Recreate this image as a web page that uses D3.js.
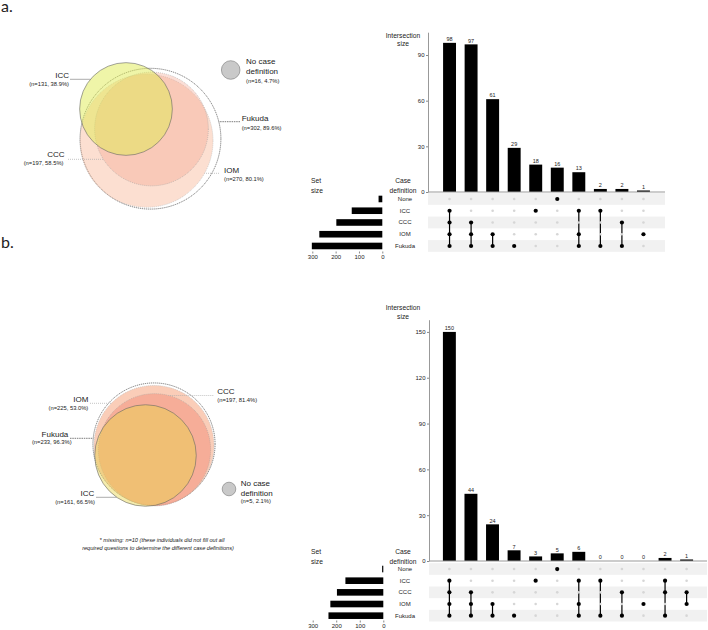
<!DOCTYPE html>
<html>
<head>
<meta charset="utf-8">
<script src="https://cdn.jsdelivr.net/npm/d3@7"></script>
<style>
  body { margin: 0; background: #fff; }
  text { font-family: "Liberation Sans", Arial, sans-serif; fill: #222; }
</style>
</head>
<body>
<script>
// matrix rows, top to bottom
var sets = ["None", "ICC", "CCC", "IOM", "Fukuda"];

// ---- panel a ----
var setSizeA = [16, 131, 197, 270, 302];
var interSizeA = [98, 97, 61, 29, 18, 16, 13, 2, 2, 1];
var interSetsA = [
  ["ICC", "CCC", "IOM", "Fukuda"], ["CCC", "IOM", "Fukuda"], ["IOM", "Fukuda"], ["Fukuda"],
  ["ICC"], ["None"], ["ICC", "IOM", "Fukuda"], ["ICC", "Fukuda"], ["CCC", "Fukuda"], ["IOM"]
];
var vennNamesA = ["Fukuda", "IOM", "CCC", "ICC"];
var vennNA = [302, 270, 197, 131];
var vennPctA = ["89.6%", "80.1%", "58.5%", "38.9%"];
var noneA = { n: 16, pct: "4.7%" };

// ---- panel b ----
var setSizeB = [5, 161, 197, 225, 233];
var interSizeB = [150, 44, 24, 7, 3, 5, 6, 0, 0, 0, 2, 1];
var interSetsB = [
  ["ICC", "CCC", "IOM", "Fukuda"], ["CCC", "IOM", "Fukuda"], ["IOM", "Fukuda"], ["Fukuda"],
  ["ICC"], ["None"], ["ICC", "IOM", "Fukuda"], ["ICC", "Fukuda"], ["CCC", "Fukuda"], ["IOM"],
  ["ICC", "CCC", "Fukuda"], ["CCC", "IOM"]
];
var vennNamesB = ["Fukuda", "IOM", "CCC", "ICC"];
var vennNB = [233, 225, 197, 161];
var vennPctB = ["96.3%", "53.0%", "81.4%", "66.5%"];
var noneB = { n: 5, pct: "2.1%" };

var setTicks = [0, 100, 200, 300];

var svg = d3.select("body").append("svg")
  .attr("width", 708)
  .attr("height", 630);

svg.append("text").attr("x", 1).attr("y", 12)
  .style("font-family", "Lato, 'Open Sans', sans-serif").style("font-size", "16px").attr("fill", "#111").text("a.");
svg.append("text").attr("x", 1).attr("y", 248)
  .style("font-family", "Lato, 'Open Sans', sans-serif").style("font-size", "16px").attr("fill", "#111").text("b.");

// ---------- circle diagrams ----------
function venn(names, ns, pcts, none, lay) {
  var r = d3.scaleSqrt().domain([0, 100]).range([0, lay.k]);
  var g = svg.append("g");

  names.forEach(function (name, i) {
    var c = lay.pos[name], st = lay.style[name];
    g.append("circle")
      .attr("cx", c[0]).attr("cy", c[1]).attr("r", r(ns[i]))
      .attr("fill", st.fill).attr("fill-opacity", st.op)
      .attr("stroke", st.stroke).attr("stroke-width", st.sw)
      .attr("stroke-dasharray", st.dash);
  });

  names.forEach(function (name, i) {
    var c = lay.pos[name], L = lay.labels[name], st = lay.style[name];
    var rr = r(ns[i]);
    var dy = L.ly - c[1];
    var dx = Math.sqrt(Math.max(0, rr * rr - dy * dy));
    var edge = L.edge == "left" ? c[0] - dx : c[0] + dx;
    g.append("line")
      .attr("x1", L.lx).attr("x2", edge)
      .attr("y1", L.ly).attr("y2", L.ly)
      .attr("stroke", L.lc).attr("stroke-width", 0.7)
      .attr("stroke-dasharray", L.ld);
    var anchor = L.side == "left" ? "end" : "start";
    g.append("text").attr("x", L.x).attr("y", L.y1)
      .attr("text-anchor", anchor).style("font-size", "8px").text(name);
    g.append("text").attr("x", L.x2 || L.x).attr("y", L.y2)
      .attr("text-anchor", anchor).style("font-size", "5.8px").attr("fill", "#333")
      .text("(n=" + ns[i] + ", " + pcts[i] + ")");
  });

  var nc = lay.none;
  g.append("circle").attr("cx", nc.cx).attr("cy", nc.cy).attr("r", nc.r)
    .attr("fill", "#c9c9c9").attr("stroke", "#777").attr("stroke-width", 0.6);
  g.append("text").attr("x", nc.tx).attr("y", nc.ty[0]).style("font-size", "8px").text("No case");
  g.append("text").attr("x", nc.tx).attr("y", nc.ty[1]).style("font-size", "8px").text("definition");
  g.append("text").attr("x", nc.tx).attr("y", nc.ty[2]).style("font-size", "5.8px").attr("fill", "#333")
    .text("(n=" + none.n + ", " + none.pct + ")");
}

venn(vennNamesA, vennNA, vennPctA, noneA, {
  k: 40.5,
  pos: { Fukuda: [150.5, 138.7], IOM: [146.5, 140.8], CCC: [151.5, 129], ICC: [126, 109] },
  style: {
    Fukuda: { fill: "#fff", op: 1, stroke: "#444", sw: 0.7, dash: "1.2,0.8" },
    IOM: { fill: "#f8b89a", op: 0.45, stroke: "#aaa", sw: 0.5, dash: "1,1" },
    CCC: { fill: "#f4a08a", op: 0.35, stroke: "#999", sw: 0.5, dash: "1,1" },
    ICC: { fill: "#dfeb51", op: 0.5, stroke: "#666", sw: 0.6, dash: null }
  },
  labels: {
    ICC: { side: "left", edge: "left", x: 69, y1: 78, y2: 85.8, lx: 70, ly: 79.3, lc: "#888", ld: null },
    CCC: { side: "left", edge: "left", x: 64.5, x2: 63.5, y1: 156.7, y2: 165, lx: 68, ly: 159.3, lc: "#aaa", ld: "1,1" },
    IOM: { side: "right", edge: "right", x: 224, y1: 172.5, y2: 181, lx: 219, ly: 173.3, lc: "#aaa", ld: "1,1" },
    Fukuda: { side: "right", edge: "right", x: 241.7, y1: 121, y2: 129.5, lx: 240, ly: 121.7, lc: "#444", ld: "1.5,0.8" }
  },
  none: { cx: 230.7, cy: 70, r: 9.3, tx: 246, ty: [64.3, 74.2, 82.5] }
});

venn(vennNamesB, vennNB, vennPctB, noneB, {
  k: 40,
  pos: { Fukuda: [154, 444], IOM: [154, 445.5], CCC: [154.5, 449.8], ICC: [145.5, 455.5] },
  style: {
    Fukuda: { fill: "#fff", op: 1, stroke: "#444", sw: 0.7, dash: "1.2,0.8" },
    IOM: { fill: "#f8b89a", op: 0.7, stroke: "#aaa", sw: 0.5, dash: "1,1" },
    CCC: { fill: "#f4a08a", op: 0.7, stroke: "#999", sw: 0.5, dash: "1,1" },
    ICC: { fill: "#e8d44a", op: 0.45, stroke: "#666", sw: 0.6, dash: null }
  },
  labels: {
    IOM: { side: "left", edge: "left", x: 88.3, y1: 402.3, y2: 410, lx: 90, ly: 403.3, lc: "#aaa", ld: "1,1" },
    Fukuda: { side: "left", edge: "left", x: 68.3, x2: 71.7, y1: 436.7, y2: 444, lx: 70, ly: 438.3, lc: "#444", ld: "1.5,0.8" },
    CCC: { side: "right", edge: "right", x: 217.3, y1: 394, y2: 402, lx: 213.3, ly: 395.5, lc: "#aaa", ld: "1,1" },
    ICC: { side: "left", edge: "left", x: 94.3, x2: 95, y1: 496, y2: 503.8, lx: 96, ly: 497.3, lc: "#888", ld: null }
  },
  none: { cx: 229, cy: 489, r: 6.8, tx: 240.7, ty: [485.7, 495.5, 503.3] }
});

svg.append("text").attr("x", 162).attr("y", 541.5).attr("text-anchor", "middle")
  .style("font-size", "5.6px").style("font-style", "italic")
  .text("* missing: n=10 (these individuals did not fill out all");
svg.append("text").attr("x", 158).attr("y", 550).attr("text-anchor", "middle")
  .style("font-size", "5.6px").style("font-style", "italic")
  .text("required questions to determine the different case definitions)");

// ---------- UpSet plots ----------
function upset(inter, members, setSize, p) {
  var g = svg.append("g");
  var x = d3.scaleBand().domain(d3.range(inter.length))
    .range([p.left, p.right]).paddingInner(0.4).paddingOuter(p.outer);
  var y = d3.scaleLinear().domain([0, p.yMax]).range([p.base, p.top]);
  var rows = d3.scaleBand().domain(sets).range([p.rowTop, p.rowBottom]);
  var xs = d3.scaleLinear().domain([0, 300]).range([p.setZero, p.set300]);

  // striped matrix rows
  g.selectAll(".stripe").data(sets.filter(function (d, i) { return i % 2 == 0; }))
    .enter().append("rect")
    .attr("x", p.left).attr("width", p.right - p.left)
    .attr("y", function (d) { return rows(d); })
    .attr("height", rows.bandwidth())
    .attr("fill", "#f1f1f1");

  // intersection bars
  g.selectAll(".bar").data(inter).enter().append("rect")
    .attr("x", function (d, i) { return x(i); })
    .attr("width", x.bandwidth())
    .attr("y", function (d) { return y(d); })
    .attr("height", function (d) { return y(0) - y(d); })
    .attr("fill", "#000");

  g.selectAll(".val").data(inter).enter().append("text")
    .attr("x", function (d, i) { return x(i) + x.bandwidth() / 2; })
    .attr("y", function (d) { return y(d) - 1.8; })
    .attr("text-anchor", "middle")
    .style("font-size", "5.5px")
    .text(function (d) { return d; });

  var ax = g.append("g").attr("transform", "translate(" + p.left + ",0)")
    .call(d3.axisLeft(y).tickValues(p.ticks).tickSize(2).tickSizeOuter(0).tickPadding(1.5));
  ax.select(".domain").attr("stroke", "#999").attr("stroke-width", 1);
  ax.selectAll(".tick line").attr("stroke", "#888");
  ax.selectAll(".tick text").style("font-size", "6px").attr("fill", "#222");

  g.append("line").attr("x1", p.left).attr("x2", p.right)
    .attr("y1", y(0)).attr("y2", y(0))
    .attr("stroke", "#999").attr("stroke-width", 1);

  // matrix dots and connectors
  var cx = function (i) { return x(i) + x.bandwidth() / 2; };
  var cy = function (s) { return rows(s) + rows.bandwidth() / 2; };
  members.forEach(function (m, i) {
    if (m.length > 1) {
      var ys = m.map(cy);
      g.append("line").attr("x1", cx(i)).attr("x2", cx(i))
        .attr("y1", d3.min(ys)).attr("y2", d3.max(ys))
        .attr("stroke", "#000").attr("stroke-width", 1.2);
    }
    sets.forEach(function (s) {
      var on = m.indexOf(s) >= 0;
      g.append("circle").attr("cx", cx(i)).attr("cy", cy(s))
        .attr("r", on ? 2.1 : 1.3)
        .attr("fill", on ? "#000" : "#d6d6d6");
    });
  });

  // row labels
  g.selectAll(".rowlab").data(sets).enter().append("text")
    .attr("x", 405).attr("y", function (d) { return cy(d) + 2; })
    .attr("text-anchor", "middle")
    .style("font-size", "6px").attr("fill", "#333")
    .text(function (d) { return d; });

  // set size bars
  var bh = 6.6;
  g.selectAll(".setbar").data(setSize).enter().append("rect")
    .attr("x", function (d) { return xs(d); })
    .attr("width", function (d) { return xs(0) - xs(d); })
    .attr("y", function (d, i) { return cy(sets[i]) - bh / 2; })
    .attr("height", bh)
    .attr("fill", "#000");

  var sa = g.append("g").attr("transform", "translate(0," + p.setAxisY + ")")
    .call(d3.axisBottom(xs).tickValues(setTicks).tickSize(2).tickPadding(1.5));
  sa.select(".domain").remove();
  sa.selectAll(".tick line").attr("stroke", "#888");
  sa.selectAll(".tick text").style("font-size", "6px").attr("fill", "#222");

  // headers
  g.append("text").attr("x", 403).attr("y", p.interHdr[0]).attr("text-anchor", "middle")
    .style("font-size", "6.7px").text("Intersection");
  g.append("text").attr("x", 403).attr("y", p.interHdr[1]).attr("text-anchor", "middle")
    .style("font-size", "6.7px").text("size");
  g.append("text").attr("x", 403).attr("y", p.caseHdr[0]).attr("text-anchor", "middle")
    .style("font-size", "6.7px").text("Case");
  g.append("text").attr("x", 403).attr("y", p.caseHdr[1]).attr("text-anchor", "middle")
    .style("font-size", "6.7px").text("definition");
  g.append("text").attr("x", 311).attr("y", p.caseHdr[0]).style("font-size", "6.7px").text("Set");
  g.append("text").attr("x", 311).attr("y", p.caseHdr[1]).style("font-size", "6.7px").text("size");
}

upset(interSizeA, interSetsA, setSizeA, {
  left: 428, right: 665, outer: 0.7,
  base: 192, top: 32.2, yMax: 105, ticks: [0, 30, 60, 90],
  rowTop: 193.1, rowBottom: 251.85,
  setZero: 382.3, set300: 312.3, setAxisY: 251.5,
  interHdr: [37.7, 45.7], caseHdr: [183, 193]
});

upset(interSizeB, interSetsB, setSizeB, {
  left: 429, right: 707, outer: 0.645,
  base: 561, top: 319.7, yMax: 158, ticks: [0, 30, 60, 90, 120, 150],
  rowTop: 563.2, rowBottom: 621.5,
  setZero: 383.3, set300: 312.7, setAxisY: 620.5,
  interHdr: [309.7, 319], caseHdr: [554, 563.5]
});
</script>
</body>
</html>
